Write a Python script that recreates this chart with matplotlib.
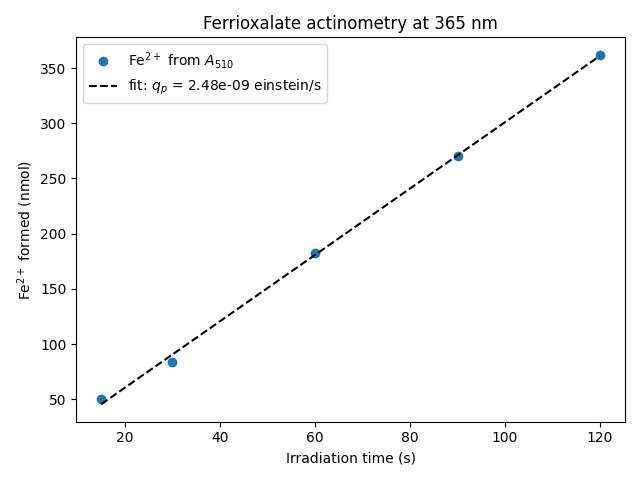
import numpy as np
import matplotlib
matplotlib.use("Agg")
import matplotlib.pyplot as plt

time_s = np.array([15, 30, 60, 90, 120])
fe_nmol = np.array([50.5, 84.0, 182.5, 270.0, 362.0])
quantum_yield = 1.21

slope, intercept = np.polyfit(time_s, fe_nmol, 1)
qp = slope / quantum_yield * 1e-9

fig, ax = plt.subplots(figsize=(6.4, 4.8), dpi=100)
ax.plot(time_s, fe_nmol, 'o', label=r'Fe$^{2+}$ from $A_{510}$')
ax.plot(time_s, slope * time_s + intercept, 'k--', label=f'fit: $q_p$ = {qp:.2e} einstein/s')
ax.set_xlabel('Irradiation time (s)')
ax.set_ylabel(r'Fe$^{2+}$ formed (nmol)')
ax.set_title('Ferrioxalate actinometry at 365 nm')
ax.legend()
fig.tight_layout()
fig.savefig('out.png')
